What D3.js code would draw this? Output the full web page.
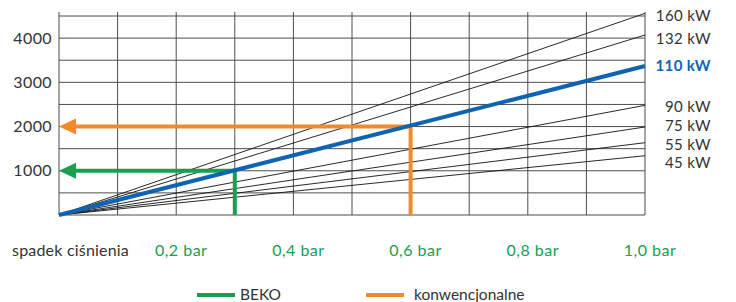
<!DOCTYPE html>
<html>
<head>
<meta charset="utf-8">
<script src="https://cdn.jsdelivr.net/npm/d3@7"></script>
<style>
  body { margin: 0; background: #fff; }
  svg { display: block; font-family: Lato, "Open Sans", sans-serif; }
</style>
</head>
<body>
<div id="chart"></div>
<script>
// values
const powers = ["160 kW", "132 kW", "110 kW", "90 kW", "75 kW", "55 kW", "45 kW"]
const flowAt1bar = [4560, 4070, 3370, 2480, 1990, 1635, 1340]
const highlighted = "110 kW"
const yTicks = [1000, 2000, 3000, 4000]
const xTicks = [0.2, 0.4, 0.6, 0.8, 1.0]
const xTickLabels = ["0,2 bar", "0,4 bar", "0,6 bar", "0,8 bar", "1,0 bar"]
const markerNames = ["BEKO", "konwencjonalne"]
const markerPressure = [0.3, 0.6]
const markerFlow = [1000, 2000]

const width = 736
const height = 302
const margin = { left: 59, right: 91, top: 16, bottom: 87 }

const colors = { BEKO: "#17a04f", konwencjonalne: "#f28a2a", blue: "#0e63b3", grid: "#4d4d4d", text: "#333" }
// small vertical nudges for the kW labels so they don't collide
const labelNudge = [2, 4, 0, 1, -1, 2.5, 7]

const x = d3.scaleLinear().domain([0, 1.0]).range([margin.left, width - margin.right])
const y = d3.scaleLinear().domain([0, 4500]).range([height - margin.bottom, margin.top])

const svg = d3.select("#chart").append("svg")
    .attr("width", width)
    .attr("height", height)

// grid
svg.append("g")
    .selectAll("line")
    .data(d3.range(0, 4501, 500))
    .join("line")
    .attr("x1", x(0)).attr("x2", x(1))
    .attr("y1", d => y(d)).attr("y2", d => y(d))
    .attr("stroke", colors.grid)
    .attr("stroke-width", 1);

svg.append("g")
    .selectAll("line")
    .data(d3.range(0, 11).map(i => i / 10))
    .join("line")
    .attr("x1", d => x(d)).attr("x2", d => x(d))
    .attr("y1", y(0)).attr("y2", y(4590))
    .attr("stroke", colors.grid)
    .attr("stroke-width", 1);

// y labels
svg.append("g")
    .attr("transform", `translate(${x(0)},0)`)
    .call(d3.axisLeft(y).tickValues(yTicks).tickSize(0).tickPadding(7).tickFormat(d3.format("d")))
    .call(g => g.select(".domain").remove())
    .call(g => g.selectAll("text")
        .attr("font-family", "Lato, sans-serif")
        .attr("font-size", 16)
        .attr("letter-spacing", 0.4)
        .attr("fill", colors.text));

// power lines
const line = d3.line().x(d => x(d[0])).y(d => y(d[1]))
const series = powers.map((name, i) => ({ name, pts: [[0, 0], [1.0, flowAt1bar[i]]], nudge: labelNudge[i] }))

svg.append("g")
    .selectAll("path")
    .data(series.filter(d => d.name != highlighted))
    .join("path")
    .attr("d", d => line(d.pts))
    .attr("fill", "none")
    .attr("stroke", "#111")
    .attr("stroke-width", 0.9);

// marker arrows (horizontal to the axis, vertical down to the pressure)
markerNames.forEach((name, i) => {
    const px = x(markerPressure[i])
    const py = y(markerFlow[i])
    const g = svg.append("g").attr("fill", colors[name]).attr("stroke", colors[name])
    g.append("line")
        .attr("x1", px).attr("x2", x(0) + 14)
        .attr("y1", py).attr("y2", py)
        .attr("stroke-width", 4);
    g.append("line")
        .attr("x1", px).attr("x2", px)
        .attr("y1", py - 2).attr("y2", y(0))
        .attr("stroke-width", 4);
    g.append("path")
        .attr("stroke", "none")
        .attr("d", `M${x(0)},${py} L${x(0) + 17},${py - 8} L${x(0) + 17},${py + 8} Z`);
});

svg.append("path")
    .datum(series.find(d => d.name == highlighted))
    .attr("d", d => line(d.pts))
    .attr("fill", "none")
    .attr("stroke", colors.blue)
    .attr("stroke-width", 4);

// kW labels at the right
svg.append("g")
    .selectAll("text")
    .data(series)
    .join("text")
    .attr("x", 711)
    .attr("y", d => y(d.pts[1][1]) + d.nudge)
    .attr("dy", "0.35em")
    .attr("text-anchor", "end")
    .attr("font-size", 15)
    .attr("letter-spacing", 0.4)
    .attr("font-weight", d => d.name == highlighted ? "bold" : null)
    .attr("fill", d => d.name == highlighted ? colors.blue : colors.text)
    .text(d => d.name);

// x labels
svg.append("g")
    .selectAll("text")
    .data(xTicks)
    .join("text")
    .attr("x", d => x(d) + 5)
    .attr("y", 250)
    .attr("dy", "0.35em")
    .attr("text-anchor", "middle")
    .attr("font-size", 16)
    .attr("letter-spacing", 0.5)
    .attr("fill", colors.BEKO)
    .text((d, i) => xTickLabels[i]);

svg.append("text")
    .attr("x", 12)
    .attr("y", 250)
    .attr("dy", "0.35em")
    .attr("font-size", 16)
    .attr("letter-spacing", 0.2)
    .attr("fill", colors.text)
    .text("spadek ciśnienia");

// legend
const legendX = [197, 366]
const leg = svg.append("g")
    .selectAll("g")
    .data(markerNames)
    .join("g")
    .attr("transform", (d, i) => `translate(${legendX[i]},295)`);

leg.append("line")
    .attr("x1", 0).attr("x2", 38)
    .attr("stroke", d => colors[d])
    .attr("stroke-width", 4);

leg.append("text")
    .attr("x", (d, i) => i == 0 ? 43 : 48)
    .attr("y", 0)
    .attr("dy", "0.35em")
    .attr("font-size", 15.5)
    .attr("fill", colors.text)
    .text(d => d);
</script>
</body>
</html>
